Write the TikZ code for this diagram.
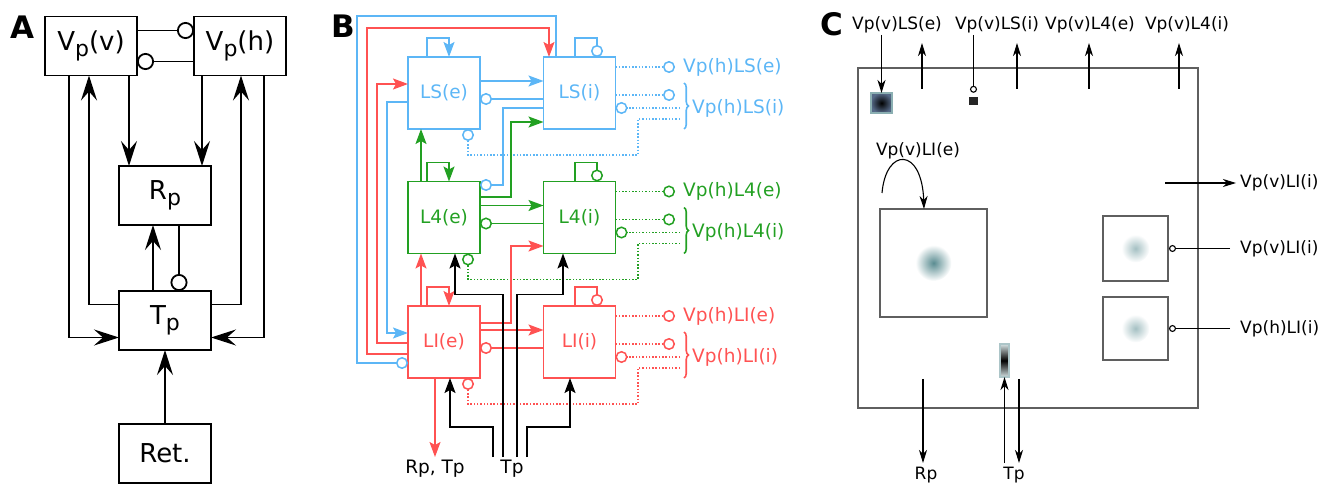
\documentclass[tikz,border=0pt]{standalone}
\usepackage{fontspec}
\setmainfont{DejaVu Sans}
\usepackage{graphicx}
\usetikzlibrary{arrows.meta,decorations.pathreplacing}

\definecolor{lsblue}{RGB}{92,182,246}
\definecolor{lfgreen}{RGB}{34,160,34}
\definecolor{lired}{RGB}{255,82,82}
\definecolor{blobteal}{RGB}{90,140,145}
\definecolor{slate}{RGB}{85,105,135}
\definecolor{framegray}{RGB}{95,95,95}

\newcommand{\lowsub}[1]{\raisebox{-0.22em}{\fontsize{22}{22}\selectfont #1}}

\begin{document}
\begin{tikzpicture}[x=1pt,y=-1pt,
  boxA/.style={draw,line width=1.8pt,minimum width=92pt,minimum height=59pt,inner sep=0pt,outer sep=0pt,font=\fontsize{26}{30}\selectfont},
  exA/.style={line width=1.8pt,-{Stealth[length=25pt,width=16pt,inset=9pt]}},
  inhA/.style={line width=1.8pt,-{Circle[open,length=17pt]}},
  boxB/.style={draw,line width=1.5pt,minimum size=72pt,inner sep=0pt,outer sep=0pt,font=\fontsize{18.5}{22}\selectfont},
  exB/.style={line width=1.5pt,-{Stealth[length=15pt,width=11pt,inset=3pt]}},
  inhB/.style={line width=1.5pt,-{Circle[open,length=12pt]}},
  dotB/.style={dash pattern=on 1.5pt off 1.8pt},
  labB/.style={inner sep=0pt,font=\fontsize{18.5}{22}\selectfont},
  labC/.style={inner sep=0pt,font=\fontsize{17}{20}\selectfont},
  exC/.style={line width=1.1pt,-{Stealth[length=13pt,width=8pt,inset=4pt]}},
  inhC/.style={line width=1.1pt,-{Circle[open,length=7pt]}},
  boxC/.style={draw=framegray,line width=1.1pt,inner sep=0pt,outer sep=0pt},
  panel/.style={font=\bfseries\fontsize{31}{31}\selectfont}]
\useasboundingbox (0,0) rectangle (1334,486);

% panel A: thalamocortical loop
\node[panel] (pA) at (22,27) {A};
\node[boxA] (Vpv) at (91,46) {V\lowsub{p}(v)};
\node[boxA] (Vph) at (240,46) {V\lowsub{p}(h)};
\node[boxA] (Rp) at (165,195.5) {R\lowsub{p}};
\node[boxA] (Tp) at (165,320.5) {T\lowsub{p}};
\node[boxA] (Ret) at (165,453.5) {Ret.};
\draw[inhA] ([yshift=-14pt]Vpv.north east) -- ([yshift=-14pt]Vph.north west);
\draw[inhA] ([yshift=14pt]Vph.south west) -- ([yshift=14pt]Vpv.south east);
\draw[exA] ([xshift=38pt]Vpv.south) -- ([xshift=-36pt]Rp.north);
\draw[exA] ([xshift=-38pt]Vph.south) -- ([xshift=37pt]Rp.north);
\draw[exA] ([yshift=16pt]Tp.west) -| ([xshift=-2pt]Vpv.south);
\draw[exA] ([xshift=-22pt]Vpv.south) |- ([yshift=-17pt]Tp.west);
\draw[exA] ([yshift=16pt]Tp.east) -| ([xshift=1pt]Vph.south);
\draw[exA] ([xshift=24pt]Vph.south) |- ([yshift=-17pt]Tp.east);
\draw[exA] ([xshift=-12pt]Tp.north) -- ([xshift=-12pt]Rp.south);
\draw[inhA] ([xshift=14pt]Rp.south) -- ([xshift=14pt]Tp.north);
\draw[exA] (Ret) -- (Tp);

% panel B: layers of one cortical column
\node[panel] (pB) at (343,26) {B};
\foreach \lay/\col/\ypos in {LS/lsblue/93,L4/lfgreen/217.5,LI/lired/342}{
  \node[boxB,draw=\col,text=\col] (\lay e) at (444,\ypos) {\lay(e)};
  \node[boxB,draw=\col,text=\col] (\lay i) at (579.5,\ypos) {\lay(i)};
  \draw[exB,\col] ([xshift=-17pt]\lay e.north) |- ([xshift=5pt,yshift=19pt]\lay e.north) -- ([xshift=5pt]\lay e.north);
  \draw[inhB,\col] ([xshift=-4.5pt]\lay i.north) |- ([xshift=17.5pt,yshift=19pt]\lay i.north) -- ([xshift=17.5pt]\lay i.north);
  \draw[exB,\col] ([yshift=12pt]\lay e.east) -- ([yshift=12pt]\lay i.west);
  \draw[inhB,\col] ([yshift=-6pt]\lay i.west) -- ([yshift=-6pt]\lay e.east);
  % inputs from Vp(h)
  \node[labB,text=\col,anchor=west] (\lay ho) at (683,\ypos-26) {Vp(h)\lay(e)};
  \node[labB,text=\col,anchor=west] (\lay hi) at (692,\ypos+15) {Vp(h)\lay(i)};
  \draw[inhB,\col,dotB] ([yshift=26pt]\lay i.east) -- ([xshift=-8pt]\lay ho.west);
  \draw[inhB,\col,dotB] ([yshift=-2pt]\lay i.east) -- (675,\ypos+2);
  \draw[inhB,\col,dotB] (680,\ypos+15) -- ([yshift=-15pt]\lay i.east);
  \draw[inhB,\col,dotB] (680,\ypos+26) -| (638,\ypos+62) -| ([xshift=24pt]\lay e.south);
  \draw[\col,line width=1.6pt,decorate,decoration={brace,amplitude=4.5pt}] (684,\ypos-10) -- (684,\ypos+36);
}
\node[labB,anchor=north,inner sep=3pt] (rptp) at (435,457) {Rp, Tp};
\node[labB,anchor=north,inner sep=3pt] (tpB) at (512,457) {Tp};
% blue
\draw[inhB,lsblue] ([xshift=-23.5pt]LSi.north) |- (357,16) |- ([yshift=-21pt]LIe.west);
\draw[exB,lsblue] ([yshift=-9pt]LSe.west) -| (387,333) -- ([yshift=9pt]LIe.west);
\draw[inhB,lsblue] ([yshift=-15pt]LSi.west) -| (503,185) -- ([yshift=32.5pt]L4e.east);
% green
\draw[exB,lfgreen] ([xshift=-23pt]L4e.north) -- ([xshift=-23pt]LSe.south);
\draw[exB,lfgreen] ([yshift=20.5pt]L4e.east) -| (511,122) -- ([yshift=-29pt]LSi.west);
% red
\draw[exB,lired] ([yshift=-12pt]LIe.west) -| (367,28) -| ([xshift=-30.5pt]LSi.north);
\draw[exB,lired] ([yshift=-1pt]LIe.west) -| (377,84) -- ([yshift=9pt]LSe.west);
\draw[exB,lired] ([xshift=-23pt]LIe.north) -- ([xshift=-23pt]L4e.south);
\draw[exB,lired] ([yshift=19pt]LIe.east) -| (511,246) -- ([yshift=-28.5pt]L4i.west);
\draw[exB,lired] ([xshift=-9pt]LIe.south) -- (rptp);
% thalamic input
\draw[exB] ([xshift=-19pt]tpB.north) |- ([xshift=6pt,yshift=-49pt]LIe.south) -- ([xshift=6pt]LIe.south);
\draw[exB] ([xshift=-9pt]tpB.north) |- ([xshift=11pt,yshift=-41pt]L4e.south) -- ([xshift=11pt]L4e.south);
\draw[exB] ([xshift=5pt]tpB.north) |- ([xshift=-16.5pt,yshift=-41pt]L4i.south) -- ([xshift=-16.5pt]L4i.south);
\draw[exB] ([xshift=15pt]tpB.north) |- ([xshift=-9.5pt,yshift=-49pt]LIi.south) -- ([xshift=-9.5pt]LIi.south);

% panel C: one retinotopic sheet
\node[panel] (pC) at (832,24) {C};
\node[boxC,minimum width=340pt,minimum height=340pt] (frameC) at (1028,238) {};
\node[labC] (cLSe) at (897,25) {Vp(v)LS(e)};
\node[labC] (cLSi) at (997,25) {Vp(v)LS(i)};
\node[labC] (cL4e) at (1090,25) {Vp(v)L4(e)};
\node[labC] (cL4i) at (1187,25) {Vp(v)L4(i)};
\node[boxC,draw=blobteal!70,inner color=black,outer color=slate,minimum width=21pt,minimum height=20pt] (sqLSe) at (881.5,103) {};
\node[fill=black!85,minimum width=9pt,minimum height=8pt,inner sep=0pt] (sqLSi) at (973.5,101) {};
\draw[exC] (sqLSe.north |- 0,35) -- (sqLSe.north);
\draw[exC] (922,89) -- (922,43);
\draw[inhC] (973.5,35) -- ([yshift=4pt]sqLSi.north);
\draw[exC] (1017,89) -- (1017,43);
\draw[exC] (1089,89) -- (1089,43);
\draw[exC] (1179,89) -- (1179,43);

\node[labC] (cLIe) at (918,151) {Vp(v)LI(e)};
\node[boxC,minimum width=107pt,minimum height=108pt] (bigC) at (933.5,263) {};
\shade[inner color=blobteal,outer color=white] (bigC.center) circle (18pt);
\draw[exC] (882,193) .. controls (886,147) and (922,147) .. ([xshift=-9.5pt]bigC.north);

\node[boxC,minimum size=65pt] (sbv) at (1135.5,248.5) {};
\node[boxC,minimum width=65pt,minimum height=63pt] (sbh) at (1135.5,328.5) {};
\shade[inner color=blobteal!55,outer color=white] (sbv.center) circle (14pt);
\shade[inner color=blobteal!55,outer color=white] (sbh.center) circle (14pt);
\node[labC,anchor=west] (vLIi) at (1240,183) {Vp(v)LI(i)};
\node[labC,anchor=west] (vLIisb) at (1240,248.5) {Vp(v)LI(i)};
\node[labC,anchor=west] (hLIi) at (1240,328.5) {Vp(h)LI(i)};
\draw[exC] (1165,183) -- ([xshift=-4pt]vLIi.west);
\draw[inhC] ([xshift=-10pt]vLIisb.west) -- ([xshift=1pt]sbv.east);
\draw[inhC] ([xshift=-10pt]hLIi.west) -- ([xshift=1pt]sbh.east);

\node[boxC,draw=blobteal!50,top color=blobteal!25,bottom color=blobteal!25,middle color=black,minimum width=9pt,minimum height=33pt] (tpbar) at (1004.5,360.5) {};
\node[labC] (cRp) at (926,475) {Rp};
\node[labC] (cTp) at (1014,475) {Tp};
\draw[exC] (923,379) -- (923,463);
\draw[exC] (1004.5,463) -- (tpbar.south);
\draw[exC] (1019,379) -- (1019,463);
\end{tikzpicture}
\end{document}
